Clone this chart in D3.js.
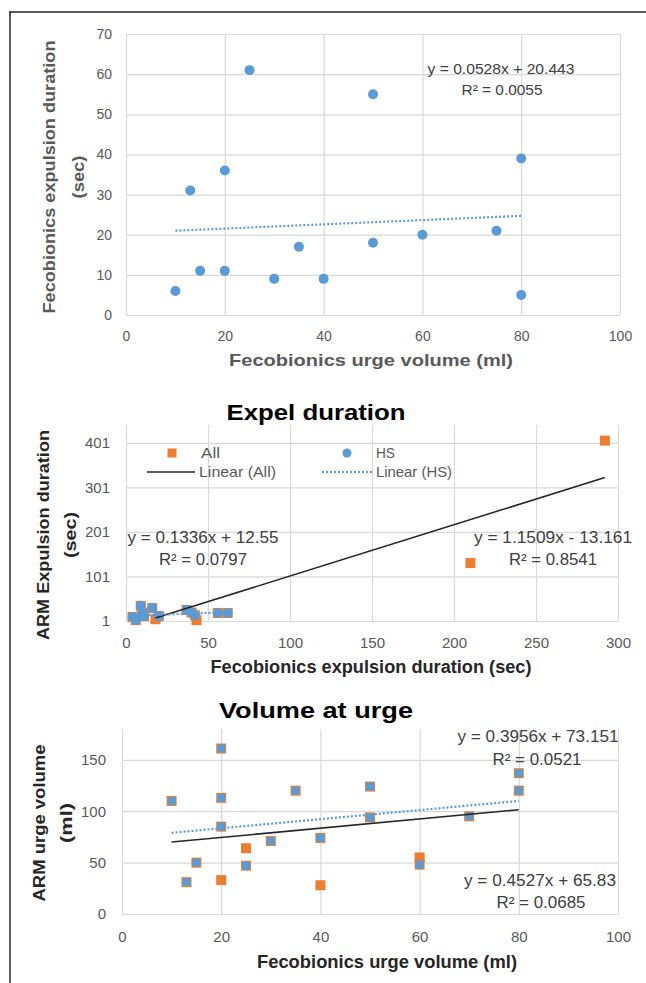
<!DOCTYPE html>
<html>
<head>
<meta charset="utf-8">
<script src="https://cdnjs.cloudflare.com/ajax/libs/d3/7.8.5/d3.min.js"></script>
<style>
  body { margin: 0; background: #fff; }
  svg { display: block; font-family: "Liberation Sans", Arial, sans-serif; }
</style>
</head>
<body>
<script>
// ---- panel 1: urge volume vs expulsion duration (HS only)
const p1Volume = [10, 13, 15, 20, 20, 25, 30, 35, 40, 50, 50, 60, 75, 80, 80];
const p1Duration = [6, 31, 11, 36, 11, 61, 9, 17, 9, 55, 18, 20, 21, 39, 5];
const p1Trend = [[10, 21.0], [80, 24.7]];
const p1Eq = ["y = 0.0528x + 20.443", "R² = 0.0055"];
const p1XTicks = [0, 20, 40, 60, 80, 100];
const p1YTicks = [0, 10, 20, 30, 40, 50, 60, 70];

// ---- panel 2: expel duration
const p2HsX = [4, 6, 9, 10, 11, 16, 20, 37, 40, 42, 56, 62];
const p2HsY = [10, 3, 35, 20, 12, 30, 12, 26, 20, 14, 19, 19];
const p2AllX = [4, 6, 9, 10, 11, 16, 18, 20, 37, 40, 42, 43, 56, 62, 210, 292];
const p2AllY = [10, 3, 35, 20, 12, 30, 5, 12, 26, 20, 14, 3, 19, 19, 131, 406];
const p2TrendAll = [[18, 7.6], [292, 323]];
const p2TrendHs = [[4, 13.1], [62, 20.8]];
const p2EqHs = ["y = 0.1336x + 12.55", "R² = 0.0797"];
const p2EqAll = ["y = 1.1509x - 13.161", "R² = 0.8541"];
const p2XTicks = [0, 50, 100, 150, 200, 250, 300];
const p2YTicks = [1, 101, 201, 301, 401];

// ---- panel 3: volume at urge
const p3HsX = [10, 13, 15, 20, 20, 20, 25, 30, 35, 40, 50, 50, 60, 70, 80, 80];
const p3HsY = [110, 31, 50, 161, 113, 85, 47, 71, 120, 74, 124, 94, 48, 95, 137, 120];
const p3AllX = [10, 13, 15, 20, 20, 20, 20, 25, 25, 30, 35, 40, 40, 50, 50, 60, 60, 70, 80, 80];
const p3AllY = [110, 31, 50, 161, 113, 85, 33, 64, 47, 71, 120, 74, 28, 124, 94, 55, 48, 95, 137, 120];
const p3TrendAll = [[10, 70], [80, 101.5]];
const p3TrendHs = [[10, 79], [80, 110]];
const p3EqHs = ["y = 0.3956x + 73.151", "R² = 0.0521"];
const p3EqAll = ["y = 0.4527x + 65.83", "R² = 0.0685"];
const p3XTicks = [0, 20, 40, 60, 80, 100];
const p3YTicks = [0, 50, 100, 150];

const BLUE = "#5B9BD5", ORANGE = "#ED7D31", GRID = "#d9d9d9";

const svg = d3.select("body").append("svg")
  .attr("width", 646)
  .attr("height", 983);

// frame (top + left edge only)
svg.append("line").attr("x1", 9).attr("x2", 646).attr("y1", 12).attr("y2", 12)
  .attr("stroke", "#222").attr("stroke-width", 1.5);
svg.append("line").attr("x1", 10).attr("x2", 10).attr("y1", 12).attr("y2", 983)
  .attr("stroke", "#222").attr("stroke-width", 1.5);

// text helper, width forces the measured length from the picture
function label(g, str, x, y, o) {
  const t = g.append("text")
    .attr("x", x).attr("y", y)
    .attr("text-anchor", o.anchor || "middle")
    .attr("dy", "0.35em")
    .attr("font-size", o.size)
    .attr("font-weight", o.bold ? "bold" : "normal")
    .attr("fill", o.color || "#404040")
    .text(str);
  if (o.width) t.attr("textLength", o.width).attr("lengthAdjust", "spacingAndGlyphs");
  if (o.rotate) t.attr("transform", `rotate(-90,${x},${y})`);
  return t;
}

function panel(c) {
  const g = svg.append("g");
  const x = d3.scaleLinear().domain(c.xDomain).range([c.left, c.right]);
  const y = d3.scaleLinear().domain(c.yDomain).range([c.bottom, c.top]);

  const ax = g.append("g")
    .attr("transform", `translate(0,${c.bottom})`)
    .call(d3.axisBottom(x).tickValues(c.xTicks).tickSize(-(c.bottom - c.top)).tickPadding(c.xPad));
  const ay = g.append("g")
    .attr("transform", `translate(${c.left},0)`)
    .call(d3.axisLeft(y).tickValues(c.yTicks).tickSize(-(c.right - c.left)).tickPadding(c.yPad));
  [ax, ay].forEach(a => {
    a.select(".domain").remove();
    a.selectAll("line").attr("stroke", GRID).attr("stroke-width", 1.2);
    a.selectAll("text").attr("fill", "#595959").attr("font-size", c.tickSize)
      .attr("font-family", "Liberation Sans, Arial, sans-serif");
  });
  return { g, x, y };
}

function trend(p, pts, color, dotted) {
  p.g.append("path")
    .datum(pts)
    .attr("d", d3.line().x(d => p.x(d[0])).y(d => p.y(d[1])))
    .attr("fill", "none")
    .attr("stroke", color)
    .attr("stroke-width", dotted ? 2.2 : 1.6)
    .attr("stroke-dasharray", dotted ? "2,2" : null);
}

function squares(p, xs, ys, color, s) {
  p.g.append("g").selectAll("rect")
    .data(xs.map((v, i) => [v, ys[i]]))
    .join("rect")
    .attr("x", d => p.x(d[0]) - s / 2)
    .attr("y", d => p.y(d[1]) - s / 2)
    .attr("width", s).attr("height", s)
    .attr("fill", color);
}

function circles(p, xs, ys, color, r) {
  p.g.append("g").selectAll("circle")
    .data(xs.map((v, i) => [v, ys[i]]))
    .join("circle")
    .attr("cx", d => p.x(d[0]))
    .attr("cy", d => p.y(d[1]))
    .attr("r", r)
    .attr("fill", color);
}

// ================= panel 1
const a = panel({
  left: 126, right: 620, top: 34, bottom: 315,
  xDomain: [0, 100], yDomain: [0, 70],
  xTicks: p1XTicks, yTicks: p1YTicks, xPad: 16, yPad: 14, tickSize: 14
});
trend(a, p1Trend, BLUE, true);
circles(a, p1Volume, p1Duration, BLUE, 5);
label(svg, p1Eq[0], 501, 69, { size: 15, width: 147 });
label(svg, p1Eq[1], 502, 90, { size: 15, width: 81 });
label(svg, "Fecobionics expulsion duration", 49, 177, { size: 17, bold: true, color: "#595959", width: 273, rotate: true });
label(svg, "(sec)", 78, 177, { size: 17, bold: true, color: "#595959", width: 43, rotate: true });
label(svg, "Fecobionics urge volume (ml)", 371, 360, { size: 17, bold: true, color: "#595959", width: 284 });

// ================= panel 2
const b = panel({
  left: 126, right: 618, top: 425, bottom: 621,
  xDomain: [0, 300], yDomain: [1, 441],
  xTicks: p2XTicks, yTicks: p2YTicks, xPad: 16, yPad: 16, tickSize: 15
});
squares(b, p2AllX, p2AllY, ORANGE, 10);
circles(b, p2HsX, p2HsY, BLUE, 5);
trend(b, p2TrendAll, "#262626", false);
trend(b, p2TrendHs, BLUE, true);
label(svg, "Expel duration", 316, 412, { size: 22, bold: true, color: "#000", width: 179 });
label(svg, p2EqHs[0], 203, 537, { size: 16, width: 151 });
label(svg, p2EqHs[1], 203, 559, { size: 16, width: 88 });
label(svg, p2EqAll[0], 553, 537, { size: 16, width: 158 });
label(svg, p2EqAll[1], 553, 559, { size: 16, width: 88 });
label(svg, "ARM Expulsion duration", 43, 535, { size: 17, bold: true, color: "#262626", width: 210, rotate: true });
label(svg, "(sec)", 70, 535, { size: 17, bold: true, color: "#262626", width: 46, rotate: true });
label(svg, "Fecobionics expulsion duration (sec)", 371, 667, { size: 18, bold: true, color: "#262626", width: 321 });

// legend
const lg = svg.append("g");
lg.append("rect").attr("x", 167.5).attr("y", 448.5).attr("width", 9).attr("height", 9).attr("fill", ORANGE);
lg.append("circle").attr("cx", 347).attr("cy", 453).attr("r", 4.5).attr("fill", BLUE);
lg.append("line").attr("x1", 147).attr("x2", 195).attr("y1", 472).attr("y2", 472)
  .attr("stroke", "#262626").attr("stroke-width", 1.6);
lg.append("line").attr("x1", 322).attr("x2", 372).attr("y1", 472).attr("y2", 472)
  .attr("stroke", BLUE).attr("stroke-width", 2.2).attr("stroke-dasharray", "2,2");
label(lg, "All", 201, 453, { size: 15, anchor: "start", color: "#595959", width: 19 });
label(lg, "HS", 376, 453, { size: 15, anchor: "start", color: "#595959", width: 19 });
label(lg, "Linear (All)", 199, 472, { size: 15, anchor: "start", color: "#595959", width: 77 });
label(lg, "Linear (HS)", 376, 472, { size: 15, anchor: "start", color: "#595959", width: 76 });

// ================= panel 3
const c = panel({
  left: 122, right: 618, top: 729, bottom: 914,
  xDomain: [0, 100], yDomain: [0, 180],
  xTicks: p3XTicks, yTicks: p3YTicks, xPad: 17, yPad: 16, tickSize: 15
});
squares(c, p3AllX, p3AllY, ORANGE, 10);
squares(c, p3HsX, p3HsY, BLUE, 8);
trend(c, p3TrendAll, "#262626", false);
trend(c, p3TrendHs, BLUE, true);
label(svg, "Volume at urge", 316, 710, { size: 22, bold: true, color: "#000", width: 194 });
label(svg, p3EqHs[0], 538, 736, { size: 16, width: 161 });
label(svg, p3EqHs[1], 537, 759, { size: 16, width: 89 });
label(svg, p3EqAll[0], 540, 880, { size: 16, width: 152 });
label(svg, p3EqAll[1], 541, 902, { size: 16, width: 89 });
label(svg, "ARM urge volume", 39, 823, { size: 17, bold: true, color: "#262626", width: 157, rotate: true });
label(svg, "(ml)", 66, 823, { size: 17, bold: true, color: "#262626", width: 40, rotate: true });
label(svg, "Fecobionics urge volume (ml)", 387, 962, { size: 18, bold: true, color: "#262626", width: 260 });
</script>
</body>
</html>
